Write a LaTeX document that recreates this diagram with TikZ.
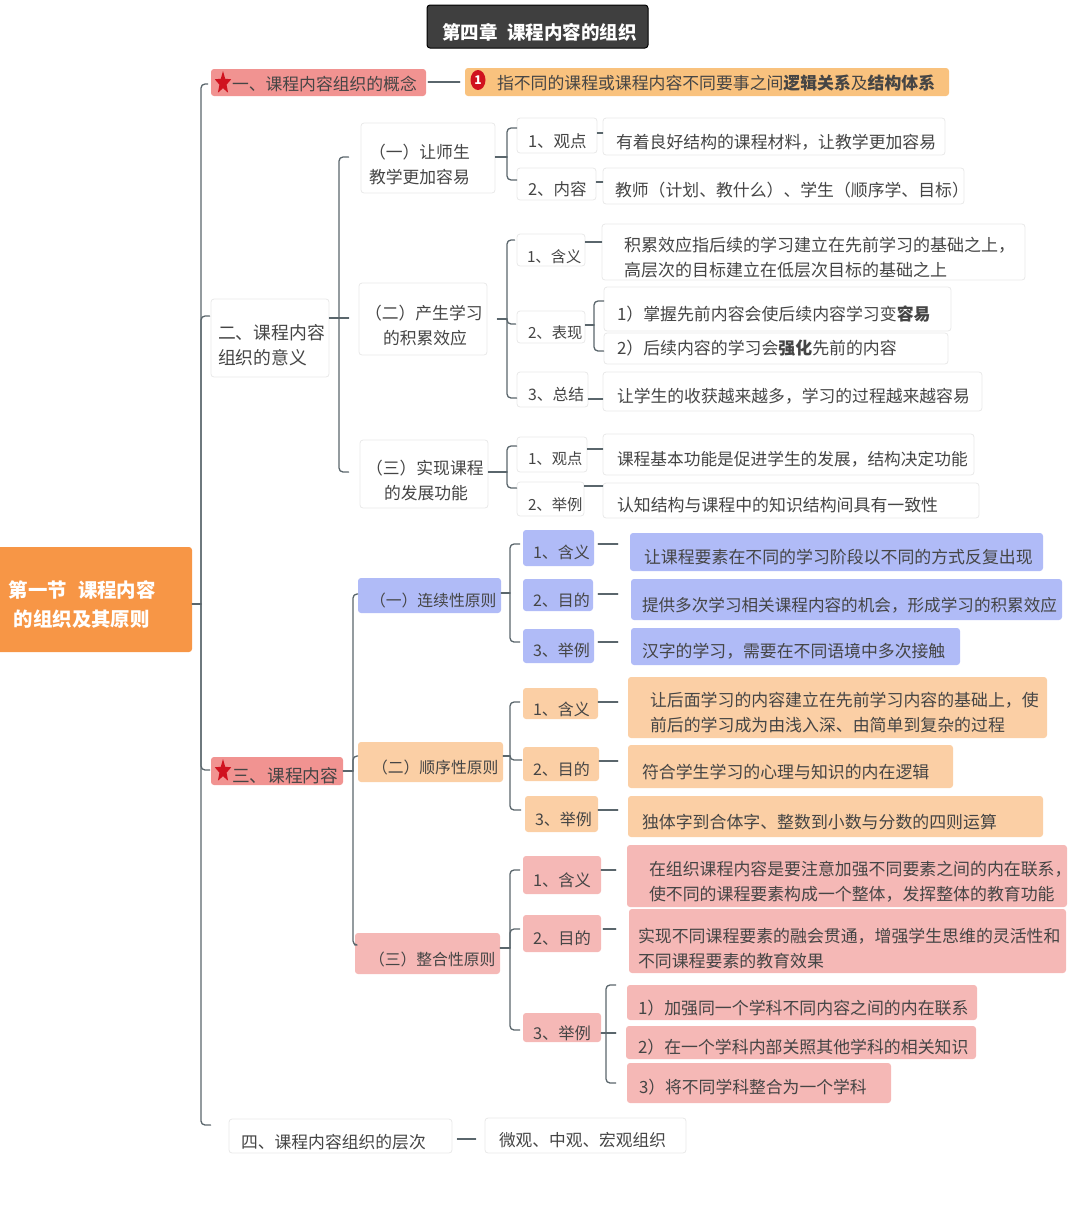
\documentclass[tikz,border=0pt]{standalone}
\usepackage{fontspec}
\setmainfont{Noto Sans CJK SC}
\usepackage{xcolor}
\usepackage{tikz}
\usetikzlibrary{calc}
\usetikzlibrary{shapes.geometric}

\definecolor{txtcol}{HTML}{454545}
\definecolor{linecol}{HTML}{5A666C}
\definecolor{edgecol}{HTML}{E9E9E9}
\definecolor{rootcol}{HTML}{F79646}
\definecolor{titlecol}{HTML}{3F3F3F}
\definecolor{seccol}{HTML}{F19391}
\definecolor{notecol}{HTML}{F9C27E}
\definecolor{bluecol}{HTML}{B0BBF7}
\definecolor{peachcol}{HTML}{FBCFA5}
\definecolor{pinkcol}{HTML}{F5B8B6}
\definecolor{starcol}{HTML}{D0121F}

\tikzset{
  spot/.style n args={6}{
    at={({(#1+#3)/2},{(#2+#4)/2})},
    minimum width={(#3-#1)*1pt}, minimum height={(#4-#2)*1pt},
    text width={(#3-#1)*1pt}, text height={(#6-#2)*1pt}, text depth={(#4-#6)*1pt},
    inner sep=0pt, align=left, rounded corners=3pt,
    execute at begin node={\pgfmathsetlength{\leftskip}{#5-#1}}},
  fs/.style={font=\fontsize{#1}{25}\selectfont},
  plainbox/.style={draw=edgecol, line width=.8pt, fill=white, text=txtcol},
  bluebox/.style={fill=bluecol, text=txtcol},
  peachbox/.style={fill=peachcol, text=txtcol},
  pinkbox/.style={fill=pinkcol, text=txtcol},
  secbox/.style={fill=seccol, text=txtcol},
  notebox/.style={fill=notecol, text=txtcol},
  link/.style={draw=linecol, line width=1.3pt, rounded corners=4pt},
  redstar/.style={star, star points=5, star point ratio=2.3, fill=starcol, minimum size=24pt, inner sep=0pt, xscale=.72}
}

\begin{document}
\begin{tikzpicture}[x=1pt, y=-1pt, line cap=round, line join=round]
  \useasboundingbox (0, 0) rectangle (1080, 1216);
  %--- Title and root
  \node (title) [spot={427}{5}{648}{48}{442}{39}, fs=18.5, fill=titlecol, draw=black, line width=1pt, text=white] {\bfseries 第四章\hspace{10pt}课程内容的组织};
  \node (root) [spot={-3}{547}{192}{652}{9}{597}, fill=rootcol, text=white, font=\fontsize{19.4}{29}\selectfont] {\bfseries 第一节\hspace{11pt}课程内容\\\hspace*{5pt}的组织及其原则};

  %--- Section one
  \node (sec1) [spot={211}{69}{426}{96}{232}{90}, fs=16.8, secbox] {一、课程内容组织的概念};
  \node (sec1star) [redstar] at (223, 83) {};
  \node (sec1note) [spot={465}{68}{949}{96}{497}{89}, fs=16.85, notebox] {指不同的课程或课程内容不同要事之间\textbf{逻辑关系}及\textbf{结构体系}};
  \node (sec1mark) [ellipse, fill=starcol, text=white, minimum width=15pt, minimum height=20pt, inner sep=0pt, font=\fontsize{12}{12}\selectfont] at (478, 80) {\bfseries 1};

  %--- Section two
  \node (sec2) [spot={211}{299}{329}{377}{218}{339}, fs=17.8, plainbox] {二、课程内容\\组织的意义};
  \node (sec2a) [spot={361}{123}{495}{193}{369}{158}, fs=16.8, plainbox] {（一）让师生\\教学更加容易};
  \node (sec2b) [spot={359}{283}{487}{355}{365}{319}, fs=16.8, plainbox] {（二）产生学习\\\hspace*{18pt}的积累效应};
  \node (sec2c) [spot={360}{440}{488}{508}{366}{474}, fs=16.8, plainbox] {（三）实现课程\\\hspace*{18pt}的发展功能};
  %--- Section two, part a
  \node (a1) [spot={517}{118}{597}{153}{528}{147}, fs=16.5, plainbox] {1、观点};
  \node (a2) [spot={517}{168}{596}{200}{528}{195}, fs=16.5, plainbox] {2、内容};
  \node (a1leaf) [spot={603}{118}{945}{155}{616}{148}, fs=16.85, plainbox] {有着良好结构的课程材料，让教学更加容易};
  \node (a2leaf) [spot={603}{168}{964}{204}{615}{196}, fs=16.85, plainbox] {教师（计划、教什么）、学生（顺序学、目标）};
  %--- Section two, part b
  \node (b1) [spot={517}{234}{585}{266}{527}{262}, fs=15.3, plainbox] {1、含义};
  \node (b2) [spot={517}{311}{585}{343}{528}{338}, fs=15.3, plainbox] {2、表现};
  \node (b3) [spot={517}{372}{588}{407}{528}{400}, fs=15.8, plainbox] {3、总结};
  \node (b1leaf) [spot={602}{224}{1025}{280}{624}{251}, fs=17, plainbox] {积累效应指后续的学习建立在先前学习的基础之上，\\高层次的目标建立在低层次目标的基础之上};
  \node (b2leaf) [spot={604}{287}{951}{331}{617}{320}, fs=16.9, plainbox] {1）掌握先前内容会使后续内容学习变\textbf{容易}};
  \node (b2next) [spot={604}{333}{948}{364}{617}{354}, fs=16.9, plainbox] {2）后续内容的学习会\textbf{强化}先前的内容};
  \node (b3leaf) [spot={603}{372}{982}{411}{617}{402}, fs=16.8, plainbox] {让学生的收获越来越多，学习的过程越来越容易};
  %--- Section two, part c
  \node (c1) [spot={517}{437}{587}{472}{528}{464}, fs=15.3, plainbox] {1、观点};
  \node (c2) [spot={517}{482}{584}{516}{528}{510}, fs=15.3, plainbox] {2、举例};
  \node (c1leaf) [spot={603}{434}{974}{475}{617}{465}, fs=16.7, plainbox] {课程基本功能是促进学生的发展，结构决定功能};
  \node (c2leaf) [spot={603}{483}{979}{518}{617}{511}, fs=16.9, plainbox] {认知结构与课程中的知识结构间具有一致性};

  %--- Section three
  \node (sec3) [spot={211}{757}{343}{785}{232}{782}, fs=17.7, secbox] {三、课程内容};
  \node (sec3star) [redstar] at (223, 771) {};
  \node (sec3a) [spot={358}{578}{501}{613}{370}{606}, fs=15.8, bluebox] {（一）连续性原则};
  \node (sec3b) [spot={358}{742}{503}{782}{372}{773}, fs=15.8, peachbox] {（二）顺序性原则};
  \node (sec3c) [spot={355}{933}{500}{974}{369}{965}, fs=15.8, pinkbox] {（三）整合性原则};
  %--- Section three, part a
  \node (d1) [spot={523}{530}{594}{566}{533}{558}, fs=16, bluebox] {1、含义};
  \node (d2) [spot={523}{579}{593}{611}{533}{606}, fs=16, bluebox] {2、目的};
  \node (d3) [spot={523}{629}{594}{663}{533}{656}, fs=16, bluebox] {3、举例};
  \node (d1leaf) [spot={630}{533}{1043}{571}{644}{563}, fs=16.9, bluebox] {让课程要素在不同的学习阶段以不同的方式反复出现};
  \node (d2leaf) [spot={631}{579}{1062}{620}{642}{611}, fs=16.6, bluebox] {提供多次学习相关课程内容的机会，形成学习的积累效应};
  \node (d3leaf) [spot={631}{628}{960}{665}{642}{657}, fs=16.85, bluebox] {汉字的学习，需要在不同语境中多次接触};
  %--- Section three, part b
  \node (e1) [spot={523}{688}{598}{719}{533}{715}, fs=16, peachbox] {1、含义};
  \node (e2) [spot={523}{747}{599}{781}{533}{775}, fs=16, peachbox] {2、目的};
  \node (e3) [spot={525}{796}{598}{832}{535}{825}, fs=16, peachbox] {3、举例};
  \node (e1leaf) [spot={628}{677}{1047}{738}{650}{706}, fs=16.9, peachbox] {让后面学习的内容建立在先前学习内容的基础上，使\\前后的学习成为由浅入深、由简单到复杂的过程};
  \node (e2leaf) [spot={628}{745}{953}{788}{642}{778}, fs=16.9, peachbox] {符合学生学习的心理与知识的内在逻辑};
  \node (e3leaf) [spot={628}{796}{1043}{837}{642}{828}, fs=16.9, peachbox] {独体字到合体字、整数到小数与分数的四则运算};
  %--- Section three, part c
  \node (f1) [spot={523}{856}{601}{894}{533}{886}, fs=16.3, pinkbox] {1、含义};
  \node (f2) [spot={523}{915}{601}{952}{533}{944}, fs=16.3, pinkbox] {2、目的};
  \node (f3) [spot={523}{1013}{601}{1042}{533}{1039}, fs=16.3, pinkbox] {3、举例};
  \node (f1leaf) [spot={627}{845}{1067}{907}{649}{875}, fs=16.9, pinkbox] {在组织课程内容是要注意加强不同要素之间的内在联系，\\使不同的课程要素构成一个整体，发挥整体的教育功能};
  \node (f2leaf) [spot={629}{909}{1066}{973}{638}{942}, fs=16.9, pinkbox] {实现不同课程要素的融会贯通，增强学生思维的灵活性和\\不同课程要素的教育效果};
  \node (f3leaf) [spot={627}{985}{977}{1020}{638}{1014}, fs=16.9, pinkbox] {1）加强同一个学科不同内容之间的内在联系};
  \node (f3next) [spot={626}{1026}{976}{1059}{638}{1053}, fs=16.9, pinkbox] {2）在一个学科内部关照其他学科的相关知识};
  \node (f3last) [spot={627}{1063}{891}{1103}{639}{1093}, fs=16.8, pinkbox] {3）将不同学科整合为一个学科};

  %--- Section four
  \node (sec4) [spot={229}{1119}{452}{1153}{241}{1148}, fs=16.8, plainbox] {四、课程内容组织的层次};
  \node (sec4leaf) [spot={485}{1118}{686}{1153}{499}{1146}, fs=16.7, plainbox] {微观、中观、宏观组织};

  %--- Junctions
  \coordinate (trunk) at (201, 604);
  \coordinate (j2) at (339, 318);
  \coordinate (ja) at (507, 157);
  \coordinate (jb) at (507, 319);
  \coordinate (jb2) at (594, 325);
  \coordinate (jc) at (507, 472);
  \coordinate (j3) at (353, 771);
  \coordinate (jd) at (510, 593);
  \coordinate (je) at (510, 756);
  \coordinate (jf) at (510, 948);
  \coordinate (jf3) at (606, 1033);

  %--- Main trunk
  \draw[link] (root.east |- trunk) -- (trunk);
  \draw[link, shorten >=3pt] (trunk) |- (sec1.west |- 0, 84);
  \draw[link, shorten >=1pt] (trunk) |- (sec2.west |- 0, 316);
  \draw[link, shorten >=1pt] (trunk) |- (sec3.west |- 0, 770);
  \draw[link, shorten >=18pt] (trunk) |- (sec4.west |- 0, 1125);
  \draw[link, shorten <=2pt, shorten >=5pt] (sec1.east |- 0, 82) -- (sec1note.west |- 0, 82);
  \draw[link, shorten <=5pt, shorten >=9pt] (sec4.east |- 0, 1139) -- (sec4leaf.west |- 0, 1139);

  %--- Section two links
  \draw[link] (sec2.east |- j2) -- (j2);
  \draw[link, shorten >=12pt] (j2) |- (sec2a.west |- 0, 157);
  \draw[link, shorten >=10pt] (j2) -- (sec2b.west |- j2);
  \draw[link, shorten >=11pt] (j2) |- (sec2c.west |- 0, 472);
  \draw[link] (sec2a.east |- ja) -- (ja);
  \draw[link] (ja) |- (a1.west |- 0, 128);
  \draw[link] (ja) |- (a2.west |- 0, 180);
  \draw[link] (a1.east |- 0, 133) -- (a1leaf.west |- 0, 133);
  \draw[link] (a2.east |- 0, 182) -- (a2leaf.west |- 0, 182);
  \draw[link, shorten <=10pt] (sec2b.east |- jb) -- (jb);
  \draw[link, shorten >=2pt] (jb) |- (b1.west |- 0, 240);
  \draw[link, shorten >=1pt] (jb) |- (b2.west |- 0, 324);
  \draw[link] (jb) |- (b3.west |- 0, 398);
  \draw[link] (b1.east |- 0, 242) -- (b1leaf.west |- 0, 242);
  \draw[link] (b2.east |- jb2) -- (jb2);
  \draw[link] (jb2) |- (b2leaf.west |- 0, 301);
  \draw[link] (jb2) |- (b2next.west |- 0, 351);
  \draw[link] (b3.east |- 0, 399) -- (b3leaf.west |- 0, 399);
  \draw[link] (sec2c.east |- jc) -- (jc);
  \draw[link] (jc) |- (c1.west |- 0, 446);
  \draw[link] (jc) |- (c2.west |- 0, 488);
  \draw[link] (c1.east |- 0, 449) -- (c1leaf.west |- 0, 449);
  \draw[link] (c2.east |- 0, 486) -- (c2leaf.west |- 0, 486);

  %--- Section three links
  \draw[link] (sec3.east |- j3) -- (j3);
  \draw[link] (j3) |- (sec3a.west |- 0, 594);
  \draw[link] (j3) |- (sec3b.west |- 0, 756);
  \draw[link] (j3) |- (sec3c.west |- 0, 945);
  \draw[link] (sec3a.east |- jd) -- (jd);
  \draw[link, shorten >=3pt] (jd) |- (d1.west |- 0, 544);
  \draw[link, shorten >=3pt] (jd) |- (d3.west |- 0, 642);
  \draw[link, shorten <=4pt, shorten >=12pt] (d1.east |- 0, 544) -- (d1leaf.west |- 0, 544);
  \draw[link, shorten <=5pt, shorten >=13pt] (d2.east |- 0, 594) -- (d2leaf.west |- 0, 594);
  \draw[link, shorten <=4pt, shorten >=13pt] (d3.east |- 0, 642) -- (d3leaf.west |- 0, 642);
  \draw[link] (sec3b.east |- je) -- (je);
  \draw[link, shorten >=3pt] (je) |- (e1.west |- 0, 702);
  \draw[link, shorten >=1pt] (je) |- (e2.west |- 0, 760);
  \draw[link, shorten >=4pt] (je) |- (e3.west |- 0, 810);
  \draw[link, shorten >=10pt] (e1.east |- 0, 702) -- (e1leaf.west |- 0, 702);
  \draw[link, shorten >=10pt] (e2.east |- 0, 761) -- (e2leaf.west |- 0, 761);
  \draw[link, shorten >=10pt] (e3.east |- 0, 810) -- (e3leaf.west |- 0, 810);
  \draw[link] (sec3c.east |- jf) -- (jf);
  \draw[link, shorten >=3pt] (jf) |- (f1.west |- 0, 870);
  \draw[link, shorten >=3pt] (jf) |- (f2.west |- 0, 929);
  \draw[link, shorten >=3pt] (jf) |- (f3.west |- 0, 1030);
  \draw[link, shorten >=11pt] (f1.east |- 0, 870) -- (f1leaf.west |- 0, 870);
  \draw[link, shorten <=2pt, shorten >=13pt] (f2.east |- 0, 929) -- (f2leaf.west |- 0, 929);
  \draw[link] (f3.east |- jf3) -- (jf3);
  \draw[link, shorten >=11pt] (jf3) |- (f3leaf.west |- 0, 985);
  \draw[link, shorten >=10pt] (jf3) -- (f3next.west |- jf3);
  \draw[link, shorten >=11pt] (jf3) |- (f3last.west |- 0, 1083);
\end{tikzpicture}
\end{document}
